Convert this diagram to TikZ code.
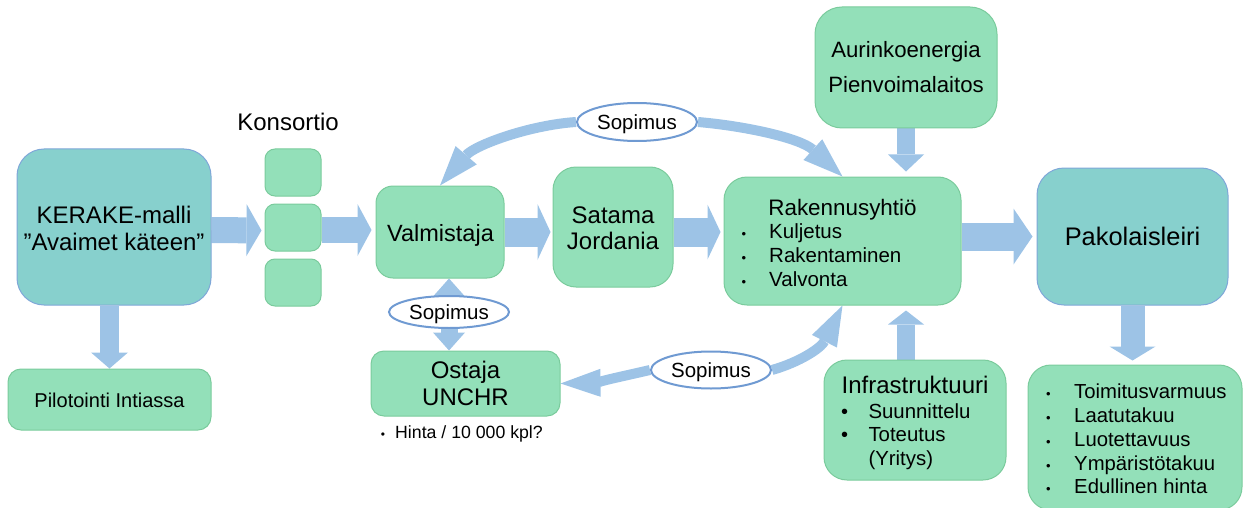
\documentclass[tikz,border=0pt]{standalone}
\usepackage{fontspec}
\setmainfont{Liberation Sans}
\usetikzlibrary{arrows.meta,shapes.geometric,backgrounds}
\definecolor{gfill}{HTML}{93E0B9}
\definecolor{gline}{HTML}{7ACB9C}
\definecolor{tfill}{HTML}{87D0CD}
\definecolor{tline}{HTML}{7FA7D8}
\definecolor{arr}{HTML}{9DC3E6}
\definecolor{eline}{HTML}{6F9AD2}
\tikzset{
  gbox/.style={draw=gline, fill=gfill, line width=1pt, inner sep=0pt},
  tbox/.style={draw=tline, fill=tfill, line width=1pt, inner sep=0pt},
  txt/.style={anchor=base, inner sep=0pt, font=\fontsize{#1}{#1}\selectfont},
  txtl/.style={anchor=base west, inner sep=0pt, font=\fontsize{#1}{#1}\selectfont},
  ell/.style={ellipse, draw=eline, fill=white, line width=2pt, inner sep=0pt, text depth=0pt, font=\fontsize{20.5}{20.5}\selectfont},
  blk/.style={draw=arr},
}
\begin{document}
\begin{tikzpicture}[x=1pt,y=-1pt]
\useasboundingbox (0,0) rectangle (1250,508);
\clip (0,0) rectangle (1250,508);
% boxes
\node[tbox, rounded corners=27pt, minimum width=194pt, minimum height=156pt] (ke) at (114,227) {};
\node[gbox, rounded corners=10pt, minimum width=56pt, minimum height=47pt] (kt) at (293,172.5) {};
\node[gbox, rounded corners=10pt, minimum width=56pt, minimum height=47pt] (km) at (293,227.5) {};
\node[gbox, rounded corners=10pt, minimum width=56pt, minimum height=47pt] (kb) at (293,282.5) {};
\node[gbox, rounded corners=13pt, minimum width=203pt, minimum height=61pt] (pi) at (109.5,399.5) {};
\node[gbox, rounded corners=17pt, minimum width=128pt, minimum height=92pt] (v) at (440,232) {};
\node[gbox, rounded corners=23pt, minimum width=120pt, minimum height=120pt] (sj) at (613,227) {};
\node[gbox, rounded corners=13pt, minimum width=189pt, minimum height=65pt] (os) at (465.5,383.5) {};
\node[gbox, rounded corners=23pt, minimum width=237pt, minimum height=128pt] (rk) at (842.5,241) {};
\node[gbox, rounded corners=27pt, minimum width=182pt, minimum height=121pt] (au) at (906,67.5) {};
\node[tbox, rounded corners=27pt, minimum width=191pt, minimum height=137pt] (pk) at (1132.5,236.5) {};
\node[gbox, rounded corners=23pt, minimum width=182pt, minimum height=120pt] (in) at (915,420) {};
\node[gbox, rounded corners=23pt, minimum width=214pt, minimum height=145pt] (br) at (1135,437.5) {};
% ellipses
\node[ell, minimum width=120pt, minimum height=38pt] (s1) at (637,122) {Sopimus};
\node[ell, minimum width=120pt, minimum height=37pt] (s2) at (711,370) {Sopimus};
\node[ell, minimum width=120pt, minimum height=32pt] (s3) at (449,312) {Sopimus};
% arrows
\begin{scope}[on background layer]
\draw[blk, line width=26pt, -{Triangle[length=15pt,width=52pt,line width=0pt]}, shorten >=3pt] ([yshift=-3pt]ke.east) -- ([yshift=-3pt]km.west);
\draw[blk, line width=26pt, -{Triangle[length=14pt,width=52pt,line width=0pt]}, shorten >=4pt] ([yshift=2pt]v.west -| km.east) -- ([yshift=2pt]v.west);
\draw[blk, line width=29pt, -{Triangle[length=13pt,width=56pt,line width=0pt]}, shorten >=2pt] (v.east) -- (v.east -| sj.west);
\draw[blk, line width=29pt, -{Triangle[length=13pt,width=55pt,line width=0pt]}, shorten >=3pt] (v.east -| sj.east) -- (v.east -| rk.west);
\draw[blk, line width=28pt, -{Triangle[length=19pt,width=56pt,line width=0pt]}, shorten >=4pt] (pk.west -| rk.east) -- (pk.west);
\draw[blk, line width=18pt, -{Triangle[length=17pt,width=36pt,line width=0pt]}, shorten >=5pt] (au.south) -- (au.south |- rk.north);
\draw[blk, line width=18pt, -{Triangle[length=14pt,width=36pt,line width=0pt]}, shorten >=5pt] (au.south |- in.north) -- (au.south |- rk.south);
\draw[blk, line width=19pt, -{Triangle[length=16pt,width=37pt,line width=0pt]}] (pi.north |- ke.south) -- (pi.north);
\draw[blk, line width=24pt, -{Triangle[length=14pt,width=46pt,line width=0pt]}, shorten >=4pt] (pk.south) -- (pk.south |- br.north);
\draw[blk, line width=17pt, {Triangle[length=18pt,width=32pt,line width=0pt]}-{Triangle[length=18pt,width=32pt,line width=0pt]}] (s3 |- v.south) -- (s3 |- os.north);
\draw[blk, line width=10pt, -{Triangle[length=40pt,width=28pt,line width=0pt]}] (s1.west) .. controls (530,125) and (475,145) .. (v.north);
\draw[blk, line width=10pt, -{Triangle[length=40pt,width=28pt,line width=0pt]}] (s1.east) .. controls (745,126) and (800,138) .. (rk.north);
\draw[blk, line width=10pt, -{Triangle[length=40pt,width=28pt,line width=0pt]}] (s2.east) .. controls (800,362) and (821,348) .. (rk.south);
\draw[blk, line width=10pt, -{Triangle[length=40pt,width=28pt,line width=0pt]}] (s2.west) .. controls (620,377) and (590,383) .. (os.east);
\end{scope}
% texts
\node[txt=24] (ke1) at (114,223) {KERAKE-malli};
\node[txt=24] (ke2) at (114,250) {”Avaimet käteen”};
\node[txt=24] (kon) at (288,131) {Konsortio};
\node[txt=20] (pit) at (109.5,407) {Pilotointi Intiassa};
\node[txt=23.5] (vt) at (440.5,241) {Valmistaja};
\node[txt=24] (sj1) at (613,223) {Satama};
\node[txt=24] (sj2) at (613,249) {Jordania};
\node[txt=24] (os1) at (465.5,378) {Ostaja};
\node[txt=24] (os2) at (465.5,405) {UNCHR};
\node[txt=12] (hb) at (383,438) {•};
\node[txtl=17.7] (ht) at (395,438) {Hinta / 10 000 kpl?};
\node[txt=22.4] (rk0) at (842.5,215) {Rakennusyhtiö};
\node[txt=13] (rkb1) at (744,238.5) {•};
\node[txt=13] (rkb2) at (744,262.5) {•};
\node[txt=13] (rkb3) at (744,286.5) {•};
\node[txtl=20.5] (rk1) at (769,238.5) {Kuljetus};
\node[txtl=20.5] (rk2) at (769,262.5) {Rakentaminen};
\node[txtl=20.5] (rk3) at (769,286.5) {Valvonta};
\node[txt=22.2] (au1) at (906,58) {Aurinkoenergia};
\node[txt=22.2] (au2) at (906,93) {Pienvoimalaitos};
\node[txt=25.4] (pkt) at (1132.5,245.5) {Pakolaisleiri};
\node[txtl=24] (in0) at (841.5,393.5) {Infrastruktuuri};
\node[txt=20] (inb1) at (844.7,418) {•};
\node[txt=20] (inb2) at (844.7,441.5) {•};
\node[txtl=20.4] (in1) at (868.3,418) {Suunnittelu};
\node[txtl=20.4] (in2) at (868.3,441.5) {Toteutus};
\node[txtl=20.4] (in3) at (868.3,465) {(Yritys)};
\node[txt=13] (brb1) at (1048.3,398.5) {•};
\node[txt=13] (brb2) at (1048.3,422.5) {•};
\node[txt=13] (brb3) at (1048.3,446.5) {•};
\node[txt=13] (brb4) at (1048.3,470) {•};
\node[txt=13] (brb5) at (1048.3,493) {•};
\node[txtl=20.3] (br1) at (1074,398.5) {Toimitusvarmuus};
\node[txtl=20.3] (br2) at (1074,422.5) {Laatutakuu};
\node[txtl=20.3] (br3) at (1074,446.5) {Luotettavuus};
\node[txtl=20.3] (br4) at (1074,470) {Ympäristötakuu};
\node[txtl=20.3] (br5) at (1074,493) {Edullinen hinta};
\end{tikzpicture}
\end{document}
